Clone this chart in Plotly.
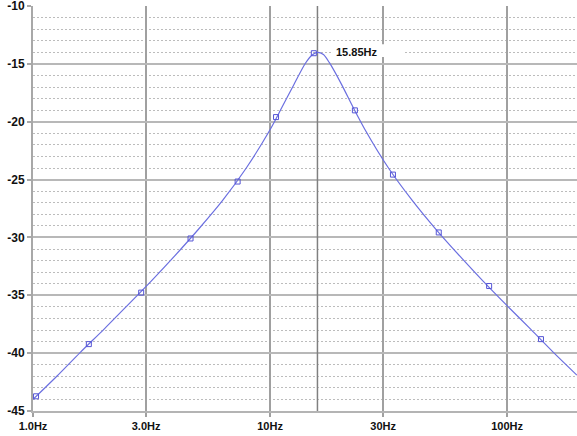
import math
import plotly.graph_objects as go

# Curve
curve_freq = [1.0, 1.26, 1.58, 2.0, 2.51, 3.16, 3.98, 5.01, 6.31, 7.94, 10.0, 11.2, 12.6, 14.1,
              15.0, 15.85, 16.8, 17.8, 20.0, 22.4, 25.1, 31.6, 39.8, 50.1, 63.1, 79.4, 100.0,
              126.0, 158.0, 197.0]
curve_db = [-44.0, -42.0, -39.95, -37.9, -35.85, -33.75, -31.55, -29.25, -26.8, -24.0, -20.7,
            -18.8, -16.8, -14.95, -14.25, -14.0, -14.2, -14.9, -16.75, -18.75, -20.65, -24.0,
            -26.8, -29.3, -31.6, -33.8, -35.9, -37.95, -40.0, -41.9]

# Marker points
marker_freq = [1.03, 1.72, 2.86, 4.62, 7.3, 10.6, 15.3, 22.8, 33.0, 51.5, 84.0, 139.0]
marker_db = [-43.73, -39.22, -34.77, -30.09, -25.17, -19.6, -14.08, -19.02, -24.57, -29.57,
             -34.2, -38.79]

x_tickvals = [1, 3, 10, 30, 100]
x_ticktext = ["1.0Hz", "3.0Hz", "10Hz", "30Hz", "100Hz"]
y_tickvals = [-10, -15, -20, -25, -30, -35, -40, -45]
y_ticktext = ["-10", "-15", "-20", "-25", "-30", "-35", "-40", "-45"]

cursor_freq = 15.85
cursor_label = "15.85Hz"
label_box_freq = [18.3, 37.0]
label_box_db = [-13.3, -14.4]

line_color = "#6b6fe0"
font_family = "Liberation Sans, Arial, sans-serif"

fig = go.Figure()
fig.add_trace(go.Scatter(x=curve_freq, y=curve_db, mode="lines",
                         line=dict(color=line_color, width=1.2, shape="spline", smoothing=0.8),
                         hoverinfo="skip", showlegend=False))
fig.add_trace(go.Scatter(x=marker_freq, y=marker_db, mode="markers",
                         marker=dict(symbol="square-open", size=5,
                                     line=dict(color="#5555d5", width=1), color="#5555d5"),
                         showlegend=False))

# cursor line
fig.add_shape(type="line", xref="x", yref="y", x0=cursor_freq, x1=cursor_freq, y0=-45, y1=-10,
              line=dict(color="#808080", width=1.5), layer="between")
# white label box
fig.add_shape(type="rect", xref="x", yref="y",
              x0=label_box_freq[0], x1=label_box_freq[1],
              y0=label_box_db[0], y1=label_box_db[1],
              fillcolor="white", line=dict(width=0), layer="between")

fig.add_annotation(x=math.log10(23.2), y=-14.0, xref="x", yref="y", text=cursor_label,
                   showarrow=False,
                   font=dict(family=font_family, size=11, color="#111", weight="bold"))

fig.update_layout(
    width=577, height=436,
    margin=dict(l=33, r=0, t=6, b=25),
    paper_bgcolor="white", plot_bgcolor="white",
    font=dict(family=font_family, size=11, color="#111"),
)
fig.update_xaxes(type="log", range=[0, 2.295],
                 tickvals=x_tickvals, ticktext=x_ticktext,
                 showgrid=True, gridcolor="#a0a0a0", gridwidth=1.5,
                 showline=True, linecolor="#b4b4b4", linewidth=2,
                 ticks="outside", ticklen=4, tickcolor="#a0a0a0", tickwidth=1.5,
                 tickfont=dict(family=font_family, size=11, color="#111", weight="bold"),
                 ticklabeloverflow="allow",
                 zeroline=False)
fig.update_yaxes(range=[-45, -10],
                 tickvals=y_tickvals, ticktext=y_ticktext,
                 showgrid=True, gridcolor="#b8b8b8", gridwidth=2,
                 showline=True, linecolor="#a8a8a8", linewidth=2,
                 ticks="outside", ticklen=4, tickcolor="#a8a8a8", tickwidth=1.5,
                 tickfont=dict(family=font_family, size=12, color="#111", weight="bold"),
                 ticklabeloverflow="allow",
                 minor=dict(dtick=1, tick0=-45, showgrid=True, gridcolor="#bcbcbc",
                            griddash="2px,2px", gridwidth=1),
                 zeroline=False)

fig.write_html("out.html")
